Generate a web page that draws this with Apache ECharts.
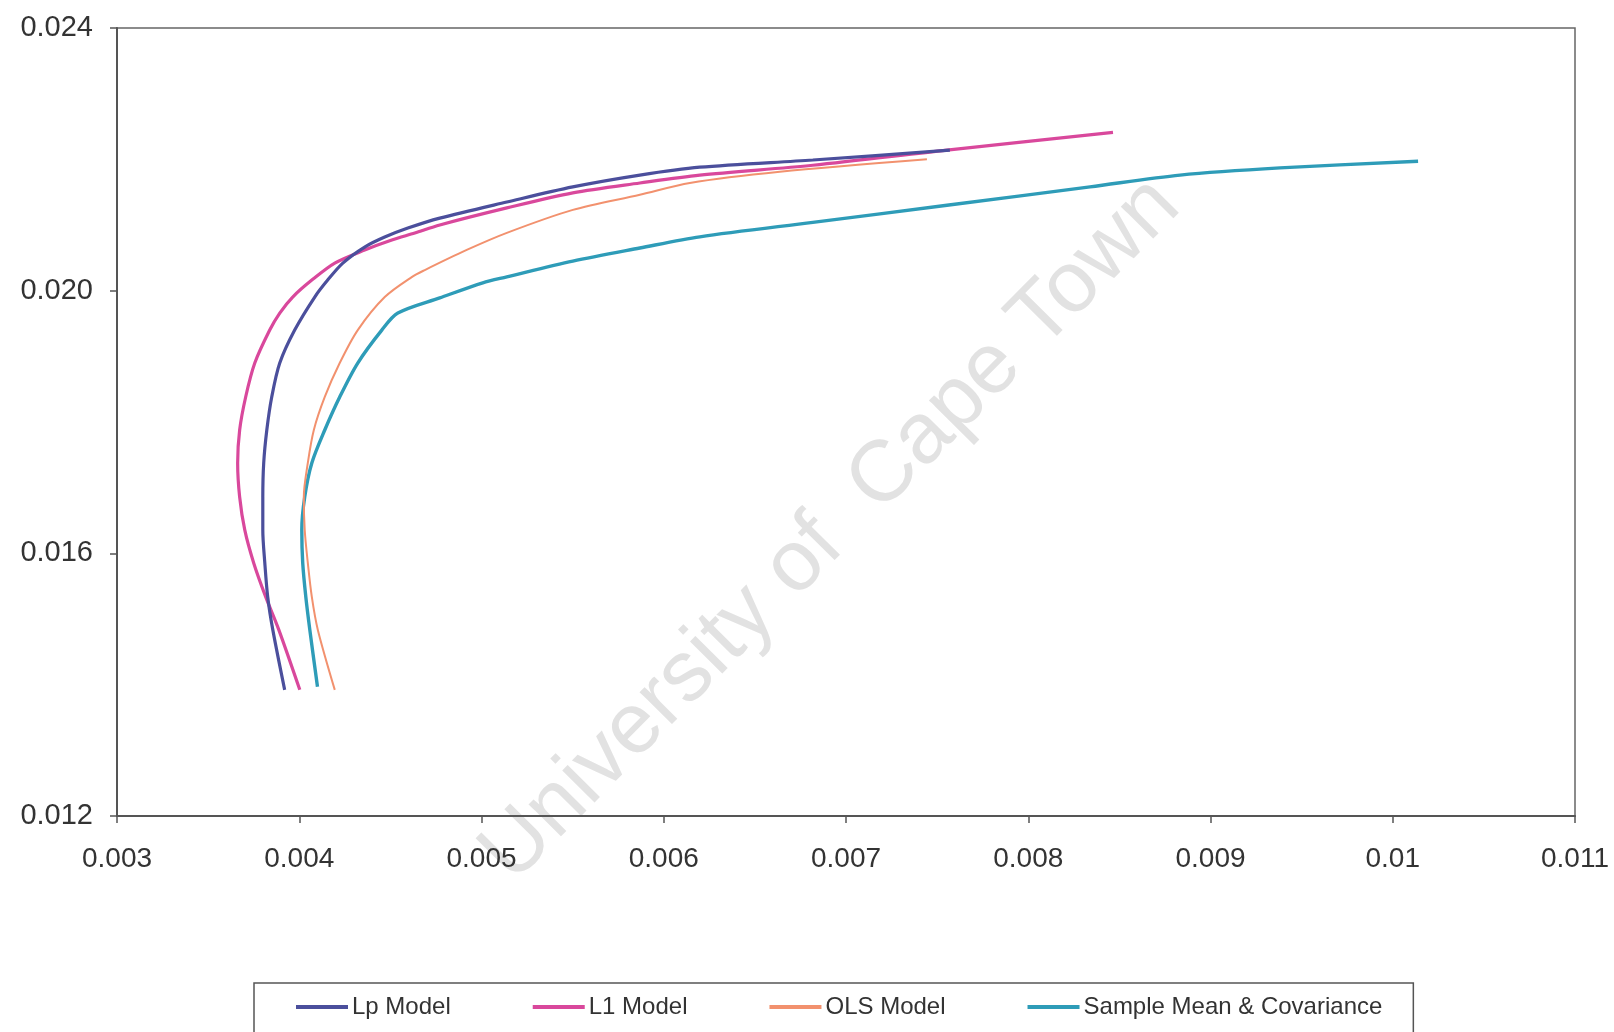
<!DOCTYPE html>
<html>
<head>
<meta charset="utf-8">
<script src="https://cdn.jsdelivr.net/npm/echarts@6/dist/echarts.min.js"></script>
<style>
html,body{margin:0;padding:0;background:#fff;}
#chart{width:1614px;height:1032px;}
</style>
</head>
<body>
<div id="chart"></div>
<script>
// Risk (x) vs return (y) frontier points
const lpModel = [
  [0.00392,0.013921],[0.003855,0.014834],[0.003827,0.015336],[0.003811,0.015854],[0.0038,0.016356],
  [0.0038,0.016858],[0.003805,0.017376],[0.003822,0.017878],[0.003849,0.018381],[0.003893,0.018898],
  [0.003975,0.0194],[0.004085,0.019903],[0.004156,0.020161],[0.004239,0.02042],[0.004359,0.020664],
  [0.004469,0.020816],[0.004596,0.020953],[0.004771,0.021105],[0.005139,0.02135],[0.005501,0.02158],
  [0.005869,0.02176],[0.006198,0.02188],[0.006818,0.02199],[0.00757,0.02214]
];
const l1Model = [
  [0.004003,0.013921],[0.003888,0.014834],[0.003816,0.015336],[0.00375,0.015854],[0.003701,0.016356],
  [0.003673,0.016858],[0.003662,0.017376],[0.003673,0.017878],[0.003706,0.018381],[0.003756,0.018898],
  [0.003838,0.0194],[0.003893,0.019659],[0.003964,0.019903],[0.004069,0.020161],[0.004195,0.02042],
  [0.004359,0.020618],[0.004508,0.02077],[0.004634,0.020877],[0.004771,0.0210],[0.005139,0.02126],
  [0.005501,0.02149],[0.005869,0.02164],[0.006198,0.02176],[0.006818,0.02191],[0.007554,0.02214],
  [0.008465,0.02241]
];
const olsModel = [
  [0.004195,0.013921],[0.004102,0.014834],[0.004069,0.015336],[0.004047,0.015854],[0.00403,0.016356],
  [0.004025,0.016858],[0.004047,0.017376],[0.00408,0.017878],[0.00414,0.018381],[0.004222,0.018898],
  [0.004321,0.0194],[0.004469,0.019903],[0.004617,0.020207],[0.004689,0.020314],[0.004919,0.02062],
  [0.005139,0.02088],[0.005501,0.02123],[0.005869,0.02146],[0.006143,0.02164],[0.006637,0.02181],
  [0.007444,0.0220]
];
const sampleMeanCov = [
  [0.0041,0.013967],[0.004058,0.014834],[0.004036,0.015336],[0.004019,0.015854],[0.004014,0.016356],
  [0.00403,0.016858],[0.004069,0.017376],[0.00414,0.017878],[0.004222,0.018381],[0.004321,0.018898],
  [0.004453,0.0194],[0.004541,0.019659],[0.004771,0.01989],[0.005007,0.02012],[0.005139,0.02021],
  [0.005501,0.02045],[0.005869,0.02065],[0.006198,0.02082],[0.006818,0.02104],[0.007554,0.0213],
  [0.008339,0.02158],[0.008833,0.02176],[0.009381,0.02187],[0.010139,0.02197]
];
const seriesNames = ['Lp Model','L1 Model','OLS Model','Sample Mean & Covariance'];
const xTickLabels = ['0.003','0.004','0.005','0.006','0.007','0.008','0.009','0.01','0.011'];
const yTickLabels = ['0.012','0.016','0.020','0.024'];

const chart = echarts.init(document.getElementById('chart'));
const font = 'Liberation Sans, Arial, sans-serif';
const colors = ['#4B4F9C','#D9489C','#F2916E','#2E9CB8'];
const datasets = [lpModel, l1Model, olsModel, sampleMeanCov];
const widths = [3.2, 3.2, 2, 3.4];
const zs = [5, 4, 3, 2];

chart.setOption({
  animation: false,
  backgroundColor: '#ffffff',
  grid: {
    left: 117, right: 39, top: 28, bottom: 216,
    show: true, borderColor: '#666', borderWidth: 1.5
  },
  xAxis: {
    type: 'value', min: 0.003, max: 0.011, interval: 0.001,
    axisLine: {show: true, lineStyle: {color: '#555', width: 2}},
    axisTick: {show: true, length: 7, lineStyle: {color: '#555', width: 1.5}},
    splitLine: {show: false},
    axisLabel: {
      margin: 29, color: '#333', fontSize: 28, fontFamily: font,
      formatter: function (v) { return xTickLabels[Math.round((v - 0.003) / 0.001)] || ''; }
    }
  },
  yAxis: {
    type: 'value', min: 0.012, max: 0.024, interval: 0.004,
    axisLine: {show: true, lineStyle: {color: '#555', width: 2}},
    axisTick: {show: true, length: 7, lineStyle: {color: '#555', width: 1.5}},
    splitLine: {show: false},
    axisLabel: {
      margin: 24, color: '#333', fontSize: 29, fontFamily: font,
      formatter: function (v) { return yTickLabels[Math.round((v - 0.012) / 0.004)] || ''; }
    }
  },
  legend: {
    left: 254, top: 983,
    padding: [12, 31, 14, 42],
    itemGap: 82, itemWidth: 52, itemHeight: 4,
    icon: 'rect',
    borderColor: '#555', borderWidth: 1.5,
    textStyle: {fontSize: 24, color: '#333', fontFamily: font, padding: [0, 0, 0, -1]},
    data: seriesNames
  },
  graphic: [{
    type: 'text', x: 831, y: 530, rotation: 0.79, z: 0, silent: true,
    style: {
      text: 'University of  Cape Town', fill: '#e2e2e2',
      font: '86px Liberation Sans, Arial, sans-serif',
      align: 'center', verticalAlign: 'middle'
    }
  }],
  series: datasets.map(function (d, i) {
    return {
      name: seriesNames[i], type: 'line', data: d, z: zs[i],
      showSymbol: false, symbol: 'none', smooth: 0.3,
      lineStyle: {color: colors[i], width: widths[i]},
      itemStyle: {color: colors[i]}
    };
  })
});
</script>
</body>
</html>
